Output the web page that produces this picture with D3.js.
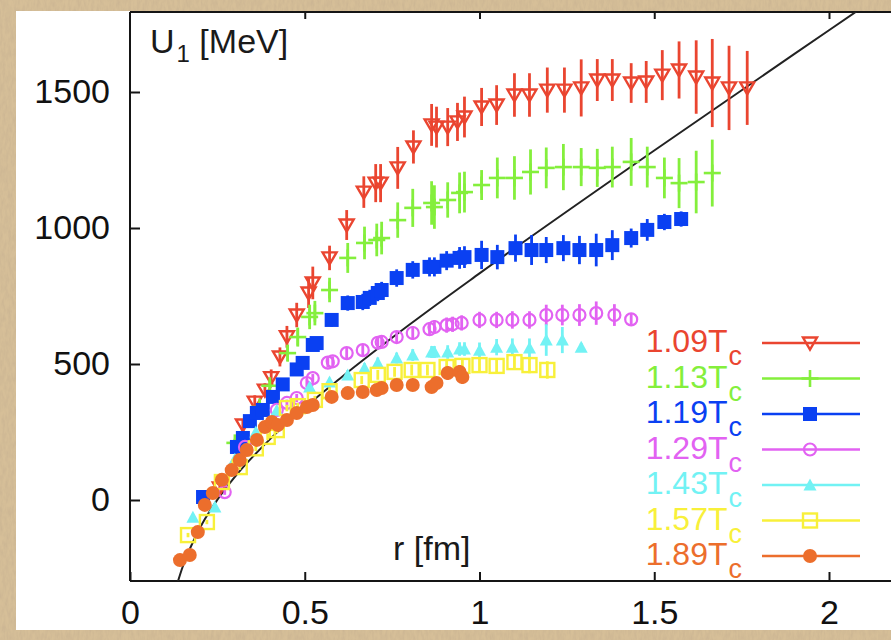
<!DOCTYPE html>
<html><head><meta charset="utf-8">
<script src="https://cdn.jsdelivr.net/npm/d3@7"></script>
<style>
html,body{margin:0;padding:0;background:#fff;}
text{font-family:"Liberation Sans",Arial,Helvetica,sans-serif;}
</style></head>
<body><svg id="chart" width="891" height="640"></svg>
<script>
// ---- data ----
const xTicks = [0, 0.5, 1, 1.5, 2];
const yTicks = [0, 500, 1000, 1500];
const labels = ["1.09", "1.13", "1.19", "1.29", "1.43", "1.57", "1.89"];
const colors = ["#ea4530", "#84ef3c", "#0a40f2", "#e262f2", "#72f2f4", "#f8f03a", "#ec6e2c"];
const shapes = ["triDown", "plus", "square", "circleOpen", "triUp", "squareOpen", "circle"];

const rT109 = [0.257,0.323,0.357,0.386,0.404,0.429,0.449,0.477,0.511,0.523,0.571,0.62,0.669,0.703,0.717,0.766,0.811,0.863,0.877,0.909,0.937,0.957,1.006,1.049,1.1,1.143,1.194,1.243,1.291,1.337,1.38,1.434,1.477,1.523,1.571,1.62,1.666,1.714,1.766];
const uT109 = [44,276,360,404,450,526,600,680,761,798,890,1011,1132,1165,1165,1221,1298,1379,1371,1371,1390,1408,1445,1452,1489,1489,1507,1507,1515,1544,1544,1533,1537,1562,1581,1555,1533,1515,1515];
const eT109 = [15,20,25,25,30,35,40,45,55,60,45,55,58,70,70,77,61,77,75,70,70,75,70,73,80,80,83,83,105,77,77,73,77,92,105,135,162,155,136];

const rT113 = [0.30,0.371,0.40,0.451,0.48,0.514,0.529,0.571,0.623,0.671,0.706,0.72,0.766,0.809,0.863,0.871,0.909,0.943,0.957,1.006,1.051,1.1,1.146,1.191,1.24,1.291,1.337,1.38,1.434,1.48,1.529,1.571,1.62,1.666];
const uT113 = [210,342,420,540,599,673,687,772,890,945,956,963,1029,1074,1092,1077,1103,1129,1132,1158,1184,1184,1206,1221,1224,1224,1221,1224,1243,1224,1184,1165,1169,1202];
const eT113 = [15,20,20,30,35,45,45,45,55,60,60,60,65,70,80,80,65,75,75,55,75,80,83,75,85,70,70,75,88,75,75,92,115,123];

const rT119 = [0.209,0.306,0.323,0.343,0.363,0.38,0.409,0.437,0.477,0.494,0.523,0.534,0.577,0.623,0.666,0.686,0.709,0.72,0.763,0.809,0.857,0.871,0.906,0.943,0.957,1.006,1.051,1.103,1.149,1.191,1.24,1.286,1.334,1.38,1.434,1.48,1.529,1.577];
const uT119 = [11,195,228,290,320,331,379,425,480,504,570,577,662,724,728,743,761,772,816,846,857,857,880,890,893,901,893,926,919,919,926,919,919,937,963,993,1022,1033];
const eT119 = [10,12,12,15,15,15,15,18,20,20,22,22,25,28,30,30,30,30,32,32,35,35,35,40,40,52,45,50,55,48,48,52,60,55,35,40,30,28];

const rT129 = [0.271,0.329,0.42,0.449,0.477,0.506,0.523,0.566,0.58,0.62,0.666,0.709,0.72,0.763,0.809,0.857,0.871,0.906,0.923,0.949,1.0,1.049,1.094,1.143,1.191,1.237,1.286,1.334,1.386,1.434];
const uT129 = [29,195,331,357,375,430,448,505,510,540,551,578,581,599,614,628,636,643,646,651,662,662,662,662,680,680,680,687,680,664];
const eT129 = [10,12,12,12,15,15,15,18,18,20,20,22,22,22,25,25,25,28,28,28,30,30,32,32,38,38,40,43,40,20];

const rT143 = [0.18,0.243,0.30,0.36,0.42,0.514,0.571,0.623,0.671,0.709,0.763,0.809,0.863,0.871,0.909,0.943,0.957,1.0,1.049,1.094,1.143,1.191,1.237,1.291];
const uT143 = [-63,-26,150,250,330,415,434,460,485,504,522,533,544,544,544,555,555,551,562,562,559,588,588,562];
const eT143 = [10,10,10,12,12,15,15,18,18,20,20,22,22,22,25,25,25,28,30,32,35,58,48,15];

const rT157 = [0.166,0.22,0.263,0.314,0.36,0.394,0.42,0.449,0.48,0.529,0.571,0.663,0.709,0.757,0.806,0.851,0.906,0.951,1.0,1.049,1.1,1.143,1.194];
const uT157 = [-129,-81,66,121,190,232,257,338,345,368,400,441,460,471,478,478,489,493,496,493,507,496,478];
const eT157 = [8,8,10,10,10,12,12,12,12,15,15,15,18,18,20,20,22,22,25,28,28,30,32];

const rT189 = [0.143,0.171,0.194,0.214,0.237,0.263,0.291,0.314,0.334,0.363,0.386,0.406,0.423,0.449,0.477,0.506,0.523,0.577,0.623,0.666,0.706,0.72,0.763,0.809,0.863,0.877,0.909,0.943,0.951];
const uT189 = [-221,-202,-118,-18,26,74,110,147,184,221,268,287,276,294,320,342,349,379,393,397,404,412,423,423,415,430,467,471,452];
const eT189 = [8,8,8,8,8,10,10,10,10,10,12,12,12,12,12,12,15,15,18,18,18,18,20,20,22,22,25,25,25];

// black fit curve
const lineR = [0.13,0.15,0.2,0.25,0.3,0.4,0.5,0.6,0.8,1.0,1.5,2.0,2.2];
const lineU = [-329,-248,-103,1,85,223,340,446,645,833,1285,1727,1903];

const seriesR = [rT109, rT113, rT119, rT129, rT143, rT157, rT189];
const seriesU = [uT109, uT113, uT119, uT129, uT143, uT157, uT189];
const seriesE = [eT109, eT113, eT119, eT129, eT143, eT157, eT189];

// ---- drawing ----
const svg = d3.select("#chart");
const W = 891, H = 640;
const plotL = 130, plotT = 12, plotB = 581;

const x = d3.scaleLinear().domain([0, 2]).range([plotL, 829]);
const y = d3.scaleLinear().domain([0, 1500]).range([500, 92]);

const defs = svg.append("defs");
const f = defs.append("filter").attr("id", "paper").attr("x", 0).attr("y", 0).attr("width", 1).attr("height", 1);
f.append("feTurbulence").attr("type", "fractalNoise").attr("baseFrequency", "0.35 0.12").attr("numOctaves", 3).attr("seed", 7).attr("result", "n");
f.append("feColorMatrix").attr("in", "n").attr("type", "matrix")
 .attr("values", "0 0 0 0 0.55  0 0 0 0 0.42  0 0 0 0 0.28  0 0 0 0.9 -0.25").attr("result", "c");
f.append("feComposite").attr("in", "c").attr("in2", "SourceGraphic").attr("operator", "atop");
defs.append("clipPath").attr("id", "clip").append("rect")
  .attr("x", plotL).attr("y", plotT).attr("width", W - plotL + 20).attr("height", plotB - plotT);

svg.append("rect").attr("width", W).attr("height", H).attr("fill", "#fff");

// paper border strips
const border = svg.append("g");
[[0, 0, W, 11], [0, 0, 16, H], [0, 630, W, 10]].forEach(b => {
  border.append("rect").attr("x", b[0]).attr("y", b[1]).attr("width", b[2]).attr("height", b[3])
    .attr("fill", "#d6bf98").attr("filter", "url(#paper)");
});

// frame
const frame = svg.append("g").attr("stroke", "#151515").attr("stroke-width", 2).attr("fill", "none");
frame.append("line").attr("x1", plotL).attr("x2", plotL).attr("y1", plotT).attr("y2", plotB);
frame.append("line").attr("x1", plotL).attr("x2", W).attr("y1", plotB).attr("y2", plotB);
frame.append("line").attr("x1", plotL).attr("x2", W).attr("y1", plotT).attr("y2", plotT);

// axes
const xAxis = svg.append("g").attr("transform", `translate(0,${plotB})`)
  .call(d3.axisBottom(x).tickValues(xTicks).tickFormat(d3.format("")).tickSize(-9).tickSizeOuter(0).tickPadding(19));
const xAxisTop = svg.append("g").attr("transform", `translate(0,${plotT})`)
  .call(d3.axisTop(x).tickValues(xTicks.slice(1)).tickFormat("").tickSize(-7).tickSizeOuter(0));
const yAxis = svg.append("g").attr("transform", `translate(${plotL},0)`)
  .call(d3.axisLeft(y).tickValues(yTicks).tickFormat(d3.format("d")).tickSize(-10).tickSizeOuter(0).tickPadding(20));
[xAxis, xAxisTop, yAxis].forEach(a => {
  a.select(".domain").remove();
  a.selectAll(".tick line").attr("stroke", "#151515").attr("stroke-width", 2);
  a.selectAll(".tick text").attr("font-size", 34).attr("fill", "#111")
    .attr("font-family", "'Liberation Sans', Arial, sans-serif");
});

// axis titles
const yt = svg.append("text").attr("x", 150).attr("y", 53).attr("font-size", 34).attr("fill", "#1a1a1a");
yt.append("tspan").text("U");
yt.append("tspan").attr("font-size", 24).attr("dy", 9).attr("dx", 2).text("1");
yt.append("tspan").attr("dy", -9).text(" [MeV]");
svg.append("text").attr("x", 393).attr("y", 560).attr("font-size", 34).attr("fill", "#1a1a1a").text("r [fm]");

// fit curve
const plot = svg.append("g").attr("clip-path", "url(#clip)");
plot.append("path")
  .datum(lineR.map((r, i) => [r, lineU[i]]))
  .attr("d", d3.line().x(d => x(d[0])).y(d => y(d[1])).curve(d3.curveMonotoneX))
  .attr("fill", "none").attr("stroke", "#222").attr("stroke-width", 2);

function marker(g, shape, color, cx, cy) {
  switch (shape) {
    case "triDown":
      g.append("path").attr("d", `M${cx-7},${cy-5.5}L${cx+7},${cy-5.5}L${cx},${cy+6.5}Z`)
        .attr("fill", "none").attr("stroke", color).attr("stroke-width", 2.4); break;
    case "plus":
      g.append("line").attr("x1", cx-8.5).attr("x2", cx+8.5).attr("y1", cy).attr("y2", cy)
        .attr("stroke", color).attr("stroke-width", 2.6);
      g.append("line").attr("x1", cx).attr("x2", cx).attr("y1", cy-8.5).attr("y2", cy+8.5)
        .attr("stroke", color).attr("stroke-width", 2.6); break;
    case "square":
      g.append("rect").attr("x", cx-7).attr("y", cy-7).attr("width", 14).attr("height", 14).attr("fill", color); break;
    case "circleOpen":
      g.append("circle").attr("cx", cx).attr("cy", cy).attr("r", 6)
        .attr("fill", "none").attr("stroke", color).attr("stroke-width", 2.2); break;
    case "triUp":
      g.append("path").attr("d", `M${cx-6.5},${cy+5.5}L${cx+6.5},${cy+5.5}L${cx},${cy-6.5}Z`).attr("fill", color); break;
    case "squareOpen":
      g.append("rect").attr("x", cx-7).attr("y", cy-7).attr("width", 14).attr("height", 14)
        .attr("fill", "none").attr("stroke", color).attr("stroke-width", 2.4); break;
    case "circle":
      g.append("circle").attr("cx", cx).attr("cy", cy).attr("r", 7).attr("fill", color); break;
  }
}

seriesR.forEach((rs, k) => {
  const g = plot.append("g");
  const col = colors[k];
  rs.forEach((r, i) => {
    const u = seriesU[k][i], e = seriesE[k][i];
    g.append("line").attr("x1", x(r)).attr("x2", x(r)).attr("y1", y(u - e)).attr("y2", y(u + e))
      .attr("stroke", col).attr("stroke-width", 2.8);
    marker(g, shapes[k], col, x(r), y(u));
  });
});

// legend
const lg = svg.append("g");
labels.forEach((lab, k) => {
  const ly = 343 + k * 35.5;
  const col = colors[k];
  const t = lg.append("text").attr("x", 742).attr("y", ly + 9).attr("text-anchor", "end")
    .attr("font-size", 32).attr("fill", col);
  t.append("tspan").text(lab + "T");
  t.append("tspan").attr("font-size", 27).attr("dy", 13).attr("dx", 1).text("c");
  lg.append("line").attr("x1", 762).attr("x2", 860).attr("y1", ly).attr("y2", ly)
    .attr("stroke", col).attr("stroke-width", 2.5);
  marker(lg, shapes[k], col, 810, ly);
});
</script></body></html>
